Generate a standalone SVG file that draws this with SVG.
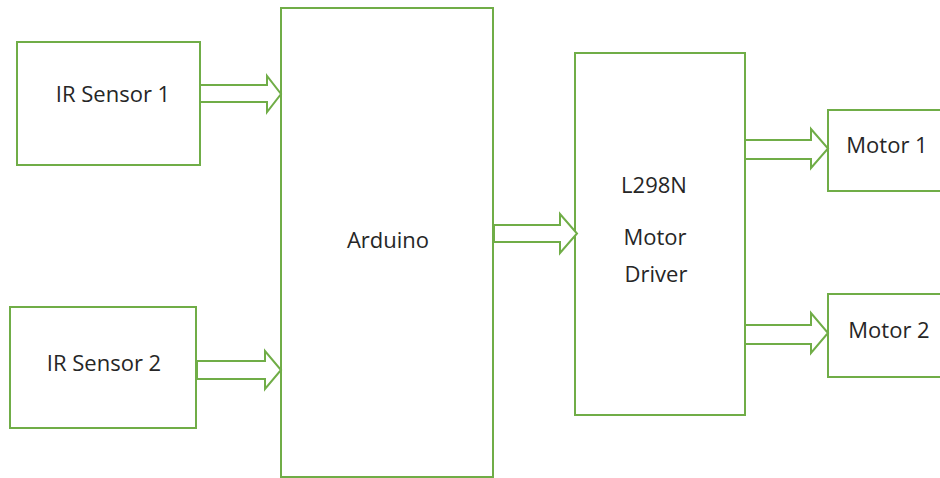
<svg xmlns="http://www.w3.org/2000/svg" width="940" height="478" viewBox="0 0 940 478">
<style>
.box{fill:#ffffff;stroke:#70AD47;stroke-width:2}
.arr{fill:#ffffff;stroke:#70AD47;stroke-width:2;stroke-linejoin:miter}
.lbl{font-family:"Open Sans","Liberation Sans",sans-serif;font-size:22px;fill:#262626;text-anchor:middle}
</style>
<rect width="940" height="478" fill="#ffffff"/>
<g id="ir1"><rect class="box" x="17" y="42" width="183" height="123"/><text class="lbl" x="113" y="102">IR Sensor 1</text></g>
<g id="ir2"><rect class="box" x="10" y="307" width="186" height="121"/><text class="lbl" x="104" y="371">IR Sensor 2</text></g>
<g id="arduino"><rect class="box" x="281" y="8" width="212" height="469"/><text class="lbl" x="388" y="248">Arduino</text></g>
<g id="driver"><rect class="box" x="575" y="53" width="170" height="362"/><text class="lbl" x="654" y="193">L298N</text><text class="lbl" x="655" y="245">Motor</text><text class="lbl" x="656" y="282">Driver</text></g>
<g id="motor1"><rect class="box" x="828" y="110" width="130" height="81"/><text class="lbl" x="887" y="153">Motor 1</text></g>
<g id="motor2"><rect class="box" x="828" y="294" width="130" height="83"/><text class="lbl" x="889" y="338">Motor 2</text></g>
<g id="connectors">
<polygon class="arr" points="200,85 267,85 267,76 281,94 267,112 267,102 200,102"/>
<polygon class="arr" points="197,361 265,361 265,351 281,370 265,389 265,379 197,379"/>
<polygon class="arr" points="494,225 560,225 560,214 577,233.5 560,253 560,242 494,242"/>
<polygon class="arr" points="745,140 811,140 811,129 828,148.5 811,168 811,159 745,159"/>
<polygon class="arr" points="745,325 811,325 811,313 828,333 811,353 811,344 745,344"/>
</g>
</svg>
